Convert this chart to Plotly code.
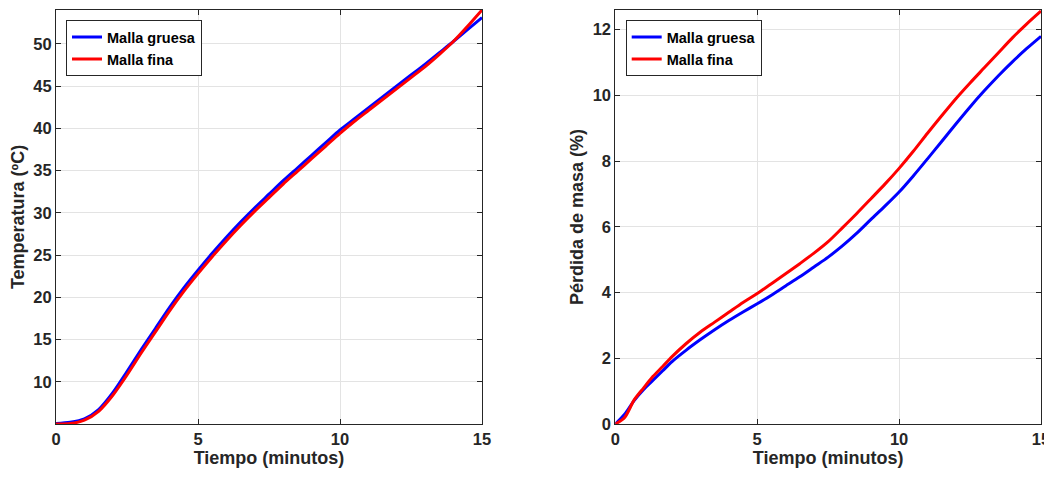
import plotly.graph_objects as go

# ---- Data: temperature (left) ----
t_temp = [0, 0.5, 1, 1.5, 2, 2.5, 3, 3.5, 4, 4.5, 5, 5.5, 6, 6.5, 7, 7.5, 8, 8.5, 9, 9.5,
          10, 10.5, 11, 11.5, 12, 12.5, 13, 13.5, 14, 14.5, 15]
temp_gruesa = [5.05, 5.2, 5.6, 6.7, 8.7, 11.2, 13.8, 16.3, 18.8, 21.1, 23.2, 25.2, 27.1, 28.9,
               30.6, 32.2, 33.8, 35.3, 36.8, 38.3, 39.8, 41.1, 42.4, 43.7, 45.0, 46.3, 47.6,
               48.95, 50.3, 51.7, 53.1]
temp_fina = [5.0, 5.05, 5.45, 6.5, 8.4, 10.8, 13.4, 15.9, 18.4, 20.7, 22.8, 24.8, 26.7, 28.5,
             30.2, 31.8, 33.4, 34.9, 36.4, 37.9, 39.4, 40.8, 42.1, 43.4, 44.7, 46.0, 47.3,
             48.75, 50.3, 52.1, 54.0]

# ---- Data: mass loss (right) ----
t_mass = [0, 0.33, 0.67, 1, 1.33, 1.67, 2, 2.5, 3, 3.5, 4, 4.5, 5, 5.5, 6, 6.5, 7, 7.5, 8,
          8.5, 9, 9.5, 10, 10.5, 11, 11.5, 12, 12.5, 13, 13.5, 14, 14.5, 15]
mass_gruesa = [0, 0.3, 0.72, 1.05, 1.33, 1.62, 1.9, 2.25, 2.57, 2.87, 3.15, 3.41, 3.66, 3.92,
               4.2, 4.48, 4.78, 5.08, 5.42, 5.8, 6.22, 6.63, 7.06, 7.55, 8.07, 8.6, 9.13, 9.65,
               10.14, 10.6, 11.03, 11.43, 11.8]
mass_fina = [0, 0.2, 0.74, 1.1, 1.45, 1.75, 2.05, 2.45, 2.8, 3.1, 3.4, 3.7, 3.97, 4.27, 4.57,
             4.88, 5.2, 5.55, 5.97, 6.4, 6.85, 7.3, 7.78, 8.3, 8.85, 9.38, 9.9, 10.38, 10.84,
             11.3, 11.76, 12.18, 12.57]

x_ticks = [0, 5, 10, 15]
temp_ticks = [10, 15, 20, 25, 30, 35, 40, 45, 50]
mass_ticks = [0, 2, 4, 6, 8, 10, 12]

label_gruesa = "Malla gruesa"
label_fina = "Malla fina"
xlabel = "Tiempo (minutos)"
ylabel_left = "Temperatura (ºC)"
ylabel_right = "Pérdida de masa (%)"

BLUE = "#0000ff"
RED = "#ff0000"
AX = "#262626"
GRID = "#e3e3e3"
FONT = "Liberation Sans"

line_shape = dict(shape="spline", smoothing=0.8)

fig = go.Figure()
fig.add_trace(go.Scatter(x=t_temp, y=temp_gruesa, mode="lines", name=label_gruesa,
                         line=dict(color=BLUE, width=3, **line_shape),
                         xaxis="x", yaxis="y", legend="legend"))
fig.add_trace(go.Scatter(x=t_temp, y=temp_fina, mode="lines", name=label_fina,
                         line=dict(color=RED, width=3, **line_shape),
                         xaxis="x", yaxis="y", legend="legend"))
fig.add_trace(go.Scatter(x=t_mass, y=mass_gruesa, mode="lines", name=label_gruesa,
                         line=dict(color=BLUE, width=3, **line_shape),
                         xaxis="x2", yaxis="y2", legend="legend2"))
fig.add_trace(go.Scatter(x=t_mass, y=mass_fina, mode="lines", name=label_fina,
                         line=dict(color=RED, width=3, **line_shape),
                         xaxis="x2", yaxis="y2", legend="legend2"))

# The page places the figure 8px from the top-left corner; work in page pixels.
OFF = 8
W, H = 1052 - OFF, 479 - OFF
ml, mr, mt, mb = 56 - OFF, 11, 9.5 - OFF, 54.5
pw = W - ml - mr
ph = H - mt - mb


def xdom(a, b):
    return [(a - OFF - ml) / pw, (b - OFF - ml) / pw]


tickfont = dict(family=FONT, size=16.5, color=AX, weight="bold")
titlefont = dict(family=FONT, size=18, color=AX, weight="bold")
legfont = dict(family=FONT, size=14.5, color="black", weight="bold")

common_axis = dict(showline=True, linecolor=AX, linewidth=1, mirror="ticks", ticks="inside",
                   ticklen=5, tickcolor=AX, showgrid=True, gridcolor=GRID, gridwidth=1,
                   zeroline=False, tickfont=tickfont, automargin=False)

leg_y = 1 - (19.7 - OFF - mt) / ph

fig.update_layout(
    width=W, height=H,
    margin=dict(l=ml, r=mr, t=mt, b=mb),
    paper_bgcolor="white", plot_bgcolor="white",
    xaxis=dict(domain=xdom(56, 482), range=[0, 15], tickvals=x_ticks, anchor="y",
               title=dict(text=xlabel, font=titlefont, standoff=4), **common_axis),
    yaxis=dict(domain=[0, 1], range=[5.0, 54.0], tickvals=temp_ticks, anchor="x",
               title=dict(text=ylabel_left, font=titlefont, standoff=5), **common_axis),
    xaxis2=dict(domain=xdom(615.3, 1041), range=[0, 15], tickvals=x_ticks, anchor="y2",
                title=dict(text=xlabel, font=titlefont, standoff=4), **common_axis),
    yaxis2=dict(domain=[0, 1], range=[0, 12.6], tickvals=mass_ticks, anchor="x2",
                title=dict(text=ylabel_right, font=titlefont, standoff=4), **common_axis),
    legend=dict(x=(66 - OFF - ml) / pw, y=leg_y, xanchor="left", yanchor="top",
                bgcolor="white", bordercolor=AX, borderwidth=1, font=legfont,
                tracegroupgap=0, itemwidth=30),
    legend2=dict(x=(625.7 - OFF - ml) / pw, y=leg_y, xanchor="left", yanchor="top",
                 bgcolor="white", bordercolor=AX, borderwidth=1, font=legfont,
                 tracegroupgap=0, itemwidth=30),
    showlegend=True,
)

fig.write_html("out.html")
